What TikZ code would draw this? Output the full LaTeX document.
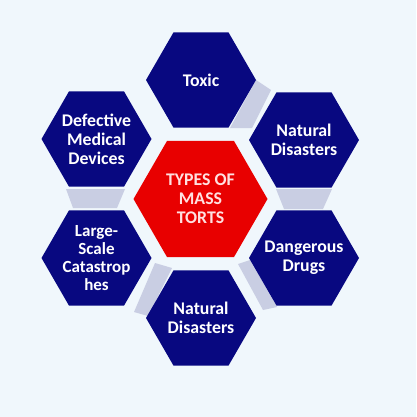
\documentclass[tikz,border=0pt]{standalone}
\usepackage{fontspec}
\setmainfont{Carlito}
\usetikzlibrary{shapes.geometric}
\definecolor{bgc}{RGB}{240,247,252}
\definecolor{navy}{RGB}{8,8,128}
\definecolor{hred}{RGB}{232,0,0}
\definecolor{band}{RGB}{201,206,227}
\definecolor{pinktext}{RGB}{255,224,224}
\tikzset{
  hexbox/.style={regular polygon, regular polygon sides=6, minimum size=110pt,
    inner sep=0pt, fill=navy},
  hubbox/.style={hexbox, minimum size=134pt, fill=hred},
  hextext/.style={text=white, align=center, inner sep=0pt,
    font=\bfseries\fontsize{17.8}{19}\selectfont},
  hubtext/.style={hextext, text=pinktext},
  smalltext/.style={hextext, font=\bfseries\fontsize{17}{17.7}\selectfont},
  bandfill/.style={fill=band}
}
\begin{document}
\begin{tikzpicture}[x=1pt,y=-1pt]
\fill[bgc] (0,0) rectangle (416,417);
\useasboundingbox (0,0) rectangle (416,417);
% bands
\fill[bandfill] (256,80) -- (230,128) -- (252,128) -- (271,90) -- cycle;
\fill[bandfill] (276,189) -- (332,189) -- (323,209) -- (284,209) -- cycle;
\fill[bandfill] (250,260) -- (277,307) -- (263,310) -- (238,264) -- cycle;
\fill[bandfill] (155,263) -- (172,268) -- (148,316) -- (134,312) -- cycle;
\fill[bandfill] (66,189) -- (125,189) -- (117,208) -- (73,208) -- cycle;
% hexagons
\node[hubbox, label={[hubtext]center:TYPES OF\\MASS\\TORTS}] (hub) at (200.5,199) {};
\node[hexbox, label={[hextext]center:Toxic}] (toxic) at (201,80) {};
\node[hexbox, label={[hextext]center:Natural\\Disasters}] (nat1) at (304,140) {};
\node[hexbox, label={[hextext]center:Dangerous\\Drugs}] (drugs) at (304,258) {};
\node[hexbox, label={[hextext]center:Natural\\Disasters}] (nat2) at (201,318) {};
\node[hexbox, label={[smalltext]center:Large-\\Scale\\Catastrop\\hes}] (large) at (96.5,258) {};
\node[hexbox, label={[hextext]center:Defective\\Medical\\Devices}] (defect) at (96.5,139) {};
\end{tikzpicture}
\end{document}
